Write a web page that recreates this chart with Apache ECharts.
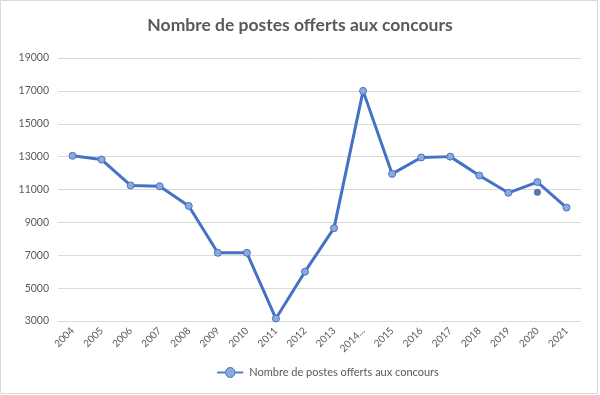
<!DOCTYPE html>
<html><head><meta charset="utf-8">
<script src="https://cdn.jsdelivr.net/npm/echarts@6/dist/echarts.min.js"></script>
<style>html,body{margin:0;padding:0;background:#fff}#c{width:600px;height:395px}</style>
</head><body><div id="c"></div>
<script>
const categories = ['2004','2005','2006','2007','2008','2009','2010','2011','2012','2013','2014...','2015','2016','2017','2018','2019','2020','2021'];
const postes = [13050,12820,11250,11200,10000,7150,7150,3150,6000,8650,17000,11950,12950,13000,11850,10800,11450,9900];
const extraPoint = [['2020',10830]];
const yTicks = {min:3000, max:19000, interval:2000};
const seriesName = 'Nombre de postes offerts aux concours';

const chart = echarts.init(document.getElementById('c'));
const font = 'Lato, "Open Sans", sans-serif';
chart.setOption({
  animation:false,
  textStyle:{fontFamily:font},
  title:{text:'Nombre de postes offerts aux concours',left:'center',top:11,
    textStyle:{fontFamily:font,fontSize:17.5,fontWeight:'bold',color:'#595959'}},
  grid:{left:58,right:19,top:58,bottom:74},
  legend:{data:[{name:seriesName,icon:'path://M0,4.5L9,4.5A4.5,4.5 0 1 1 19,4.5L28,4.5L28,5.5L19,5.5A4.5,4.5 0 1 1 9,5.5L0,5.5Z',
      itemStyle:{borderWidth:1}}],
    bottom:12,left:212,itemWidth:28,itemHeight:10,
    textStyle:{fontFamily:font,fontSize:11,color:'#595959'}},
  xAxis:{type:'category',data:categories,boundaryGap:true,
    axisLine:{show:false},axisTick:{show:false},
    axisLabel:{rotate:45,fontSize:10,color:'#595959',interval:0,margin:8}},
  yAxis:{type:'value',min:yTicks.min,max:yTicks.max,interval:yTicks.interval,
    axisLine:{show:false},axisTick:{show:false},
    axisLabel:{fontSize:10.5,color:'#595959',margin:9,formatter:v=>String(v)},
    splitLine:{lineStyle:{color:'#D9D9D9',width:1}}},
  series:[
    {name:seriesName,type:'line',data:postes,symbol:'circle',symbolSize:7,
      lineStyle:{color:'#4472C4',width:3},
      itemStyle:{color:'#8EA9DB',borderColor:'#4472C4',borderWidth:1}},
    {name:'extra',type:'scatter',data:extraPoint,symbol:'circle',symbolSize:7,
      itemStyle:{color:'#2F5597'}}
  ],
  graphic:[{type:'rect',shape:{x:0.5,y:0.5,width:597,height:393},
    style:{fill:'none',stroke:'#D9D9D9',lineWidth:1},silent:true}]
});
</script></body></html>
